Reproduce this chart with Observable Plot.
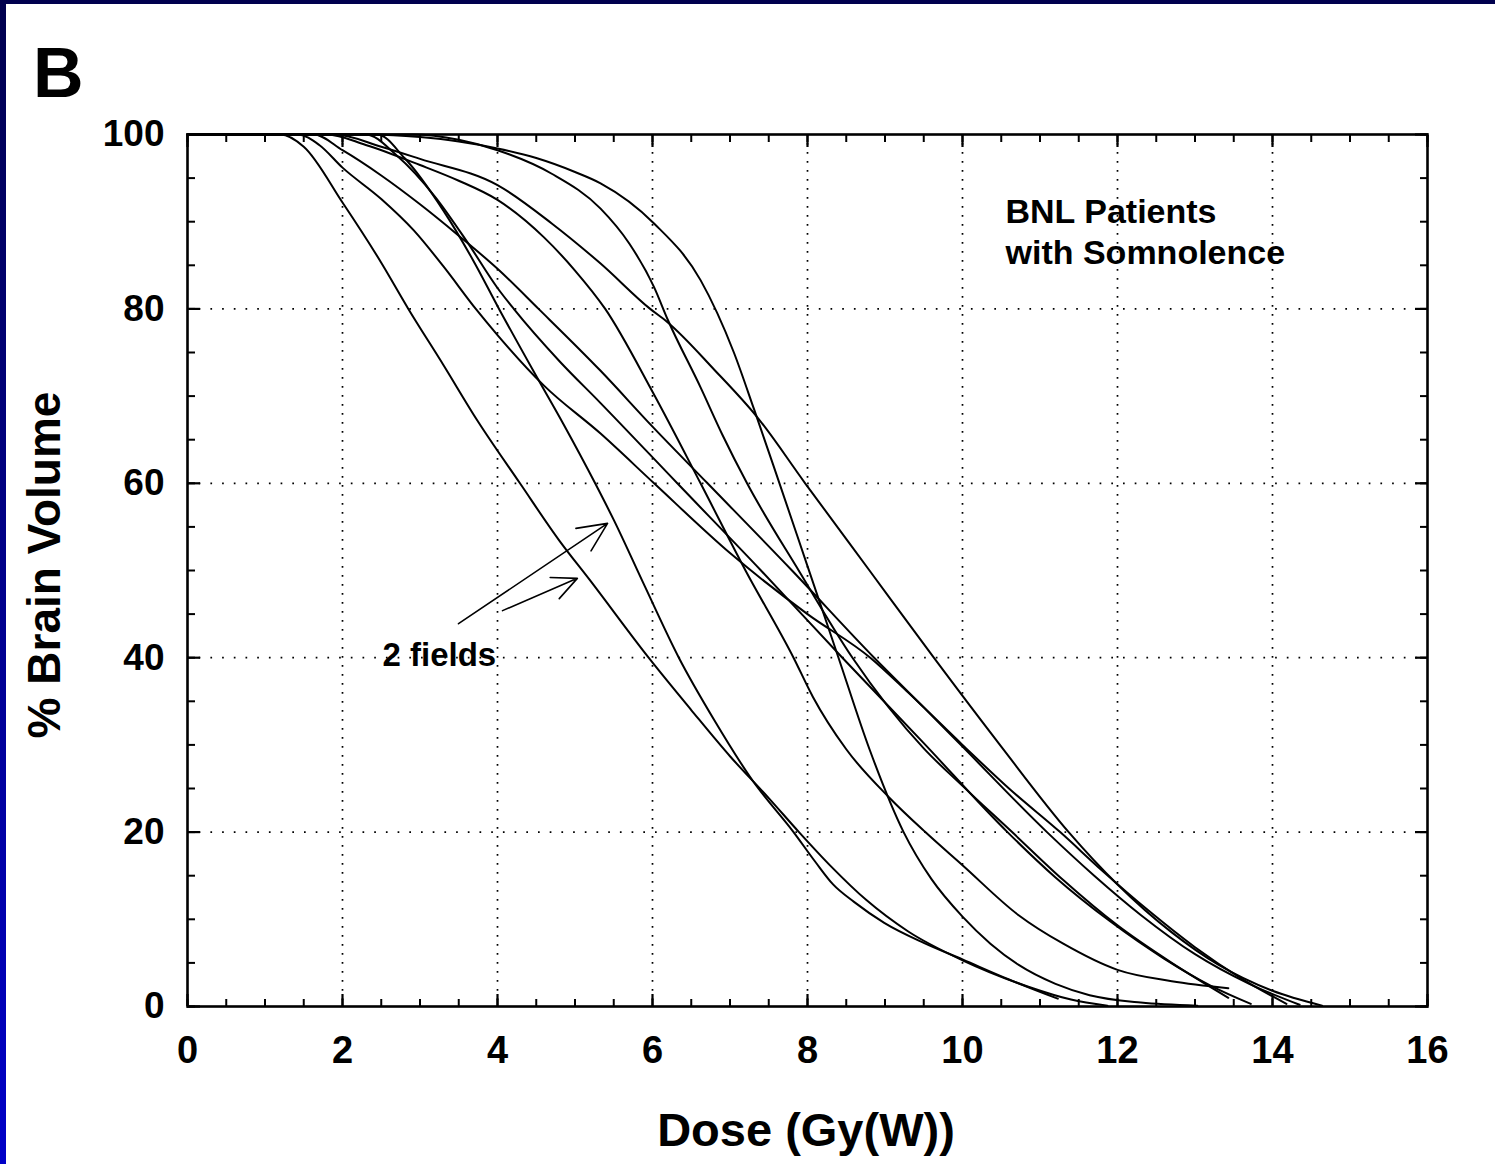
<!DOCTYPE html>
<html><head><meta charset="utf-8">
<script src="https://cdn.jsdelivr.net/npm/d3@7"></script>
<script src="https://cdn.jsdelivr.net/npm/@observablehq/plot@0.6"></script>
<style>
html,body{margin:0;padding:0;background:#fff;}
#wrap{position:relative;width:1495px;height:1164px;overflow:hidden;background:#fff;}
#topbar{position:absolute;left:0;top:0;width:1495px;height:4px;background:#00004e;}
#leftbar{position:absolute;left:0;top:0;width:6px;height:1164px;background:linear-gradient(to bottom,#00004e,#0000c8);}
#chart{position:absolute;left:0;top:0;}
</style></head><body>
<div id="wrap"><div id="chart"></div><div id="topbar"></div><div id="leftbar"></div></div>
<script>
// Tick values
const xMajor = [0, 2, 4, 6, 8, 10, 12, 14, 16];
const xMinor = d3.range(0, 16.01, 0.5);
const yMajor = [0, 20, 40, 60, 80, 100];
const yMinor = d3.range(0, 100.1, 5);

// Dose-volume curves: [dose Gy(W), % brain volume]
const curveA = [[0,100],[1.2,100],[1.5,98.6],[2.0,92.2],[2.5,85.3],[2.85,80],[3.3,73.6],[3.74,67.2],[4.29,60],[4.8,53.4],[5.2,48.8],[5.95,40],[6.5,34],[7.0,28.7],[7.5,23.9],[7.89,20],[8.3,16.1],[8.76,12.2],[9.3,8.6],[10,5.3],[10.84,2.3],[11.4,0.8],[11.87,0.1]];
const curveB = [[0,100],[2.45,100],[2.8,97.3],[3.3,91.3],[3.69,85.5],[4.02,80],[4.5,72.3],[4.85,66.8],[5.26,60],[5.5,55.8],[5.9,48.2],[6.34,40],[6.8,32.8],[7.3,25.8],[7.82,20],[8.1,16.6],[8.33,14],[8.6,12.0],[8.99,9.6],[9.5,7.3],[10,5.4],[10.6,3.1],[11.23,0.9]];
const curveC = [[0,100],[1.42,100],[1.7,98.8],[2.0,96.2],[2.5,92.6],[2.92,89],[3.3,84.9],[3.72,80],[4.0,77],[4.6,71.2],[5.33,65.7],[6.02,60],[7.0,52],[8.0,45],[8.81,40],[9.3,36],[10.0,30],[10.6,25],[11.26,20],[11.8,15.6],[12.4,11],[13.0,6.8],[13.6,3.2],[14.18,0.3]];
const curveD = [[0,100],[2.3,100],[2.7,97.6],[3.2,92.8],[3.6,87.8],[4.0,82.4],[4.21,80],[4.8,74],[5.33,69.2],[6.32,60],[7.4,50],[8.45,40],[9.5,30.2],[10.58,20],[11.2,14.8],[11.9,9.8],[12.6,5.5],[13.2,2.4],[13.72,0.3]];
const curveE = [[0,100],[1.63,100],[2.0,98.2],[2.5,95.3],[3.0,92],[3.5,88.4],[4.0,84.6],[4.53,80],[5.33,72.9],[6.0,66.5],[6.71,60],[7.8,50],[8.86,40],[9.5,34.3],[10.0,29.8],[11.09,20],[11.7,15],[12.3,10.5],[13.0,6],[13.7,2.6],[14.35,0.2]];
const curveF = [[0,100],[1.8,100],[2.3,98.8],[3.0,96.5],[3.5,94.7],[4.0,92.5],[4.6,88.2],[5.0,84.4],[5.39,80],[6.0,70.5],[6.62,60],[7.2,50],[7.82,40],[8.07,35.5],[8.5,29.5],[9.05,24],[9.52,20],[10.0,16.2],[10.72,10.5],[11.3,7.2],[12.0,4.2],[12.7,2.9],[13.43,2.1]];
const curveG = [[0,100],[1.9,100],[2.5,98.6],[3.0,97.2],[4.0,94.2],[4.7,89.8],[5.33,85.2],[5.97,80],[6.19,78.5],[6.8,73],[7.35,67.6],[7.97,60],[8.8,50],[9.63,40],[10.5,29.8],[11.37,20],[12.0,14],[12.7,8.5],[13.3,4.8],[14.0,1.8],[14.64,0.1]];
const curveH = [[0,100],[2.9,100],[3.5,99.4],[4.0,98.2],[4.7,95.5],[5.33,91.5],[5.7,87.5],[6.02,82.5],[6.2,78.7],[6.62,71],[6.9,65.6],[7.22,60],[7.9,49.8],[8.58,40],[9.5,29.6],[10.0,25.3],[10.64,20],[11.3,14.5],[12,9.3],[12.7,5],[13.43,1]];
const curveI = [[0,100],[2.4,100],[3.0,99.7],[3.5,99.2],[4,98.4],[4.5,97.3],[5.0,95.7],[5.33,94.4],[6.02,89.8],[6.62,83.3],[7.05,75],[7.31,68.5],[7.6,61],[8.0,50.5],[8.4,40],[8.8,29.5],[9.24,20],[9.6,14.6],[10,10.3],[10.36,7.2],[10.72,4.8],[11.2,2.6],[11.64,1.3],[12.3,0.45],[13.03,0.1]];

// Annotations
const arrowStarts = [[3.497, 43.9], [4.065, 45.4]];
const arrowEnds = [[5.42, 55.4], [5.03, 49.1]];
const notes = [
  {x: 10.555, y: 93.2, label: "BNL Patients\nwith Somnolence", size: 34},
  {x: 2.516, y: 42.3, label: "2 fields", size: 33}
];

const curves = {A: curveA, B: curveB, C: curveC, D: curveD, E: curveE, F: curveF, G: curveG, H: curveH, I: curveI};
const rows = Object.entries(curves).flatMap(([id, pts]) => pts.map(([dose, vol]) => ({id, dose, vol})));
const arrows = arrowStarts.map((s, i) => ({x1: s[0], y1: s[1], x2: arrowEnds[i][0], y2: arrowEnds[i][1]}));

const FONT = "'Liberation Sans', Arial, Helvetica, sans-serif";

const svg = Plot.plot({
  width: 1495,
  height: 1164,
  marginLeft: 187,
  marginRight: 68,
  marginTop: 134,
  marginBottom: 158,
  style: {fontFamily: FONT, background: "transparent", color: "#000", overflow: "visible"},
  x: {domain: [0, 16]},
  y: {domain: [0, 100]},
  marks: [
    Plot.gridX(xMajor.filter(v => v > 0 && v < 16), {stroke: "#000", strokeOpacity: 1, strokeWidth: 1.7, strokeDasharray: "1.7,7.3"}),
    Plot.gridY(yMajor.filter(v => v > 0 && v < 100), {stroke: "#000", strokeOpacity: 1, strokeWidth: 1.7, strokeDasharray: "1.7,10"}),
    Plot.axisX({anchor: "bottom", ticks: xMinor, tickSize: -7, tickFormat: () => "", label: null, strokeWidth: 2}),
    Plot.axisX({anchor: "bottom", ticks: xMajor, tickSize: -12, tickFormat: () => "", label: null, strokeWidth: 2.2}),
    Plot.axisX({anchor: "top", ticks: xMinor, tickSize: -7, tickFormat: () => "", label: null, strokeWidth: 2}),
    Plot.axisX({anchor: "top", ticks: xMajor, tickSize: -12, tickFormat: () => "", label: null, strokeWidth: 2.2}),
    Plot.axisY({anchor: "left", ticks: yMinor, tickSize: -8, tickFormat: () => "", label: null, strokeWidth: 2}),
    Plot.axisY({anchor: "left", ticks: yMajor, tickSize: -13, tickFormat: () => "", label: null, strokeWidth: 2.2}),
    Plot.axisY({anchor: "right", ticks: yMinor, tickSize: -8, tickFormat: () => "", label: null, strokeWidth: 2}),
    Plot.axisY({anchor: "right", ticks: yMajor, tickSize: -13, tickFormat: () => "", label: null, strokeWidth: 2.2}),
    Plot.axisX({anchor: "bottom", ticks: xMajor, tickSize: 0, tickPadding: 30, fontSize: 38, fontWeight: "bold", label: null}),
    Plot.axisY({anchor: "left", ticks: yMajor, tickSize: 0, tickPadding: 23, fontSize: 37, fontWeight: "bold", label: null}),
    Plot.line(rows, {x: "dose", y: "vol", z: "id", stroke: "#000", strokeWidth: 2, curve: "monotone-x"}),
    Plot.arrow(arrows, {x1: "x1", y1: "y1", x2: "x2", y2: "y2", stroke: "#000", strokeWidth: 1.6, headLength: 30, headAngle: 50}),
    Plot.text(notes, {x: "x", y: "y", text: "label", textAnchor: "start", lineAnchor: "top", fontSize: d => d.size, fontWeight: "bold", lineHeight: 1.2, fill: "#000"}),
    Plot.frame({stroke: "#000", strokeWidth: 2.6})
  ]
});

const s = d3.select(svg);
s.append("text").attr("x", 33).attr("y", 97).attr("text-anchor", "start").attr("font-size", 70).attr("font-weight", "bold").attr("font-family", FONT).attr("fill", "#000").text("B");
s.append("text").attr("x", 806).attr("y", 1146).attr("text-anchor", "middle").attr("font-size", 47).attr("font-weight", "bold").attr("font-family", FONT).attr("fill", "#000").text("Dose (Gy(W))");
s.append("text").attr("transform", "translate(60,565) rotate(-90)").attr("text-anchor", "middle").attr("font-size", 46).attr("font-weight", "bold").attr("font-family", FONT).attr("fill", "#000").text("% Brain Volume");

document.getElementById("chart").appendChild(svg);
</script>
</body></html>
